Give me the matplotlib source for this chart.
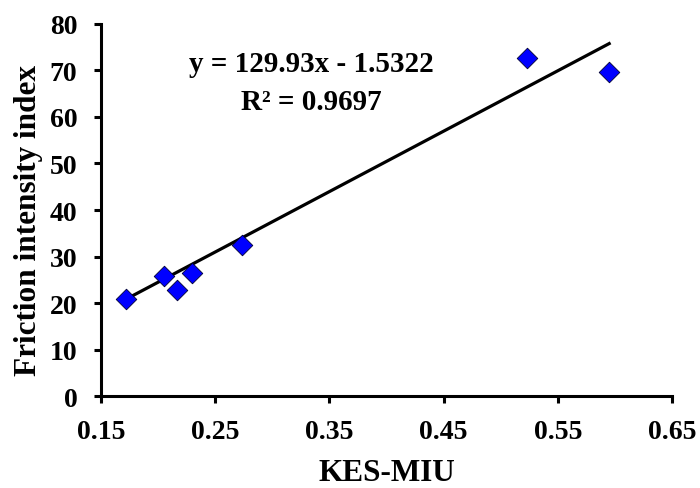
import matplotlib.pyplot as plt
import numpy as np

# data
kes_miu = [0.172, 0.205, 0.217, 0.230, 0.274, 0.523, 0.595]
friction = [20.9, 25.8, 22.8, 26.5, 32.5, 72.7, 69.7]
slope, intercept = 129.93, -1.5322
r2 = 0.9697
xticks = [0.15, 0.25, 0.35, 0.45, 0.55, 0.65]
yticks = [0, 10, 20, 30, 40, 50, 60, 70, 80]

plt.rcParams['font.family'] = ['Liberation Serif', 'DejaVu Serif']
plt.rcParams['font.weight'] = 'bold'

fig = plt.figure(figsize=(7, 4.89), dpi=100)
ax = fig.add_axes([0.144, 0.188, 0.816, 0.761])

ax.scatter(kes_miu, friction, marker='D', s=110, color='#0000ff',
           edgecolors='#000033', linewidths=0.6, zorder=3)

x_fit = np.array([min(kes_miu), max(kes_miu)])
ax.plot(x_fit, slope * x_fit + intercept, color='black', lw=2.3, zorder=2)

ax.text(0.334, 71.4, f"y = {slope}x - {abs(intercept)}", ha='center', va='center',
        fontsize=21, fontweight='bold')
ax.text(0.334, 63.4, f"R² = {r2}", ha='center', va='center',
        fontsize=21, fontweight='bold')

ax.set_xlim(0.15, 0.65)
ax.set_ylim(0, 80)
ax.set_xticks(xticks)
ax.set_yticks(yticks)
ax.set_xticklabels([f"{v:.2f}" for v in xticks])
ax.set_yticklabels([str(v) for v in yticks])

for side in ['top', 'right']:
    ax.spines[side].set_visible(False)
for side in ['left', 'bottom']:
    ax.spines[side].set_linewidth(2.2)

ax.tick_params(axis='both', direction='out', width=2.2, length=4.8, labelsize=20)
ax.tick_params(axis='x', pad=12)
ax.tick_params(axis='y', pad=12)

ax.set_xlabel("KES-MIU", fontsize=22.5, fontweight='bold', labelpad=10)
ax.set_ylabel("Friction intensity index", fontsize=22.5, fontweight='bold', labelpad=5)
ax.yaxis.label.set_y(0.475)

fig.savefig("out.png", dpi=100)
